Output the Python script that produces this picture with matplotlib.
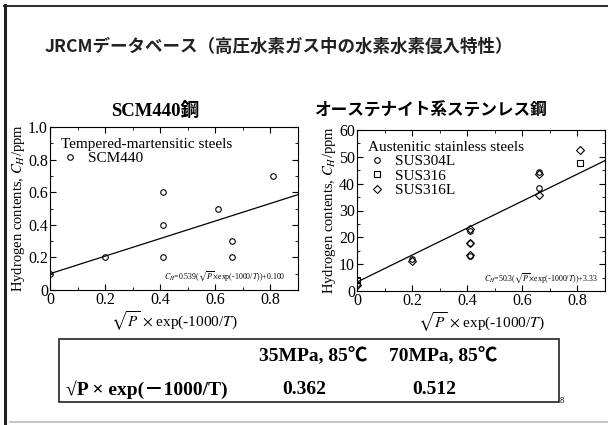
import matplotlib.pyplot as plt
from matplotlib.lines import Line2D
from matplotlib.patches import Rectangle
from matplotlib.ticker import MultipleLocator

plt.rcParams['font.family'] = ['Liberation Serif', 'Noto Sans CJK JP']
plt.rcParams['mathtext.fontset'] = 'stix'

# SCM440 (tempered-martensitic)
scm_x = [0, 0.2, 0.41, 0.41, 0.41, 0.61, 0.66, 0.66, 0.81]
scm_y = [0.1, 0.2, 0.6, 0.4, 0.2, 0.5, 0.3, 0.2, 0.7]
scm_fit = (0.539, 0.100)

# austenitic stainless steels
sus304l_x = [0, 0.2, 0.41, 0.41, 0.41, 0.66, 0.66]
sus304l_y = [2.5, 12.0, 22.5, 18.0, 13.0, 44.2, 38.5]
sus316_x = [0, 0.81]
sus316_y = [4.2, 47.8]
sus316l_x = [0, 0.2, 0.41, 0.41, 0.41, 0.66, 0.66, 0.81]
sus316l_y = [2.2, 11.3, 23.0, 17.8, 13.5, 43.5, 35.8, 52.5]
sus_fit = (50.3, 3.33)

fit_x = [0, 0.9]

# table
table_cols = ['35MPa, 85℃', '70MPa, 85℃']
table_row = '√P × exp(－1000/T)'
table_vals = ['0.362', '0.512']

fig = plt.figure(figsize=(6.08, 4.25), dpi=100)
W, H = 608, 425


def fx(px):
    return px / W


def fy(py):
    return 1 - py / H


# slide frame
fig.add_artist(Line2D([fx(4), 1], [fy(5.5), fy(5.5)], color='#333333', lw=1.5))
fig.add_artist(Line2D([fx(5), fx(5)], [fy(5), 0], color='#222222', lw=2.2))
fig.add_artist(Line2D([fx(10), 1], [fy(422), fy(422)], color='#bbbbbb', lw=1.2))

fig.text(fx(45), fy(47), 'JRCMデータベース（高圧水素ガス中の水素水素侵入特性）',
         family=['Noto Sans CJK JP'], fontweight='bold', fontsize=12.6,
         va='center', ha='left', color='#222222')
fig.text(fx(155), fy(111), 'SCM440鋼', fontweight='bold', fontsize=13.5,
         ha='center', va='center')
fig.text(fx(431), fy(111), 'オーステナイト系ステンレス鋼', family=['Noto Sans CJK JP'],
         fontweight='bold', fontsize=12, ha='center', va='center')

xlabel = r'$\sqrt{P}$ $\times$ exp(-1000/$T$)'
ylabel = r'Hydrogen contents, $C_H$/ppm'


def style(ax, ymaj, ymin):
    ax.set_xlim(0, 0.9)
    ax.xaxis.set_major_locator(MultipleLocator(0.2))
    ax.xaxis.set_minor_locator(MultipleLocator(0.1))
    ax.yaxis.set_major_locator(MultipleLocator(ymaj))
    ax.yaxis.set_minor_locator(MultipleLocator(ymin))
    ax.tick_params(which='both', direction='in', top=True, right=True, labelsize=11.5, pad=1.5)
    ax.tick_params(which='major', length=4)
    ax.tick_params(which='minor', length=2)
    ax.set_xlabel(xlabel, fontsize=11, labelpad=1)
    ax.set_ylabel(ylabel, fontsize=10.5, labelpad=1)
    for s in ax.spines.values():
        s.set_linewidth(0.8)


mk = dict(mfc='none', mec='black', mew=0.8, ls='none')
leg_kw = dict(loc='upper left', frameon=False, fontsize=11, title_fontsize=11,
              handletextpad=0.6, borderaxespad=0.5, borderpad=0.2,
              labelspacing=0.05, handlelength=1.2)

ax1 = fig.add_axes([fx(50), fy(290), fx(248), 163 / H])
ax1.plot(scm_x, scm_y, 'o', ms=4, label='SCM440', **mk)
ax1.plot(fit_x, [scm_fit[0] * v + scm_fit[1] for v in fit_x], color='black', lw=0.9)
ax1.set_ylim(0, 1.0)
style(ax1, 0.2, 0.1)
ax1.set_yticks([0, 0.2, 0.4, 0.6, 0.8, 1.0])
ax1.set_yticklabels(['0', '0.2', '0.4', '0.6', '0.8', '1.0'])
ax1.set_xticks([0, 0.2, 0.4, 0.6, 0.8])
ax1.set_xticklabels(['0', '0.2', '0.4', '0.6', '0.8'])
leg = ax1.legend(title='Tempered-martensitic steels', **leg_kw)
leg._legend_box.align = 'left'
ax1.text(0.95, 0.085, r'$C_H$=0.539($\sqrt{P}$$\times$exp(-1000/$T$))+0.100',
         transform=ax1.transAxes, ha='right', va='center', fontsize=5.7)

ax2 = fig.add_axes([fx(357), fy(291), fx(248), 161 / H])
ax2.plot(sus304l_x, sus304l_y, 'o', ms=4, label='SUS304L', **mk)
ax2.plot(sus316_x, sus316_y, 's', ms=4, label='SUS316', **mk)
ax2.plot(sus316l_x, sus316l_y, 'D', ms=4.5, label='SUS316L', **mk)
ax2.plot(fit_x, [sus_fit[0] * v + sus_fit[1] for v in fit_x], color='black', lw=0.9)
ax2.set_ylim(0, 60)
style(ax2, 10, 5)
ax2.set_xticks([0, 0.2, 0.4, 0.6, 0.8])
ax2.set_xticklabels(['0', '0.2', '0.4', '0.6', '0.8'])
leg = ax2.legend(title='Austenitic stainless steels', **leg_kw)
leg._legend_box.align = 'left'
ax2.text(0.97, 0.08, r'$C_H$=50.3($\sqrt{P}$$\times$exp(-1000/$T$))+3.33',
         transform=ax2.transAxes, ha='right', va='center', fontsize=5.7)

# table box
fig.add_artist(Rectangle((fx(59), fy(402)), fx(500), 63 / H, fill=False,
                         edgecolor='#222222', lw=1.2, transform=fig.transFigure))
col_x = [313, 443]
for cx, c, v in zip(col_x, table_cols, table_vals):
    fig.text(fx(cx), fy(356), c, fontweight='bold', fontsize=14, ha='center', va='center')
    fig.text(fx(cx - 9), fy(390), v, fontweight='bold', fontsize=14, ha='center', va='center')
fig.text(fx(66), fy(390), table_row, fontweight='bold', fontsize=14, ha='left', va='center')
fig.text(fx(562), fy(401), '8', fontsize=6, ha='center', va='center')

plt.savefig('out.png', dpi=100)
